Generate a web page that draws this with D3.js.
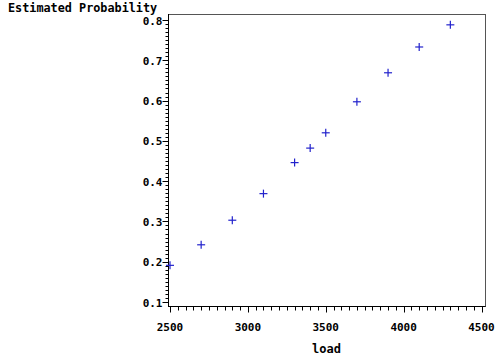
<!DOCTYPE html>
<html><head><meta charset="utf-8">
<script src="https://cdn.jsdelivr.net/npm/d3@7"></script>
<style>body{margin:0;background:#fff}</style>
</head><body>
<svg id="c" width="495" height="360"></svg>
<script>
const load = [2500, 2700, 2900, 3100, 3300, 3400, 3500, 3700, 3900, 4100, 4300];
const prob = [0.191, 0.242, 0.303, 0.369, 0.446, 0.482, 0.520, 0.597, 0.669, 0.733, 0.788];
const xTicks = [2500, 3000, 3500, 4000, 4500];
const yTicks = [0.1, 0.2, 0.3, 0.4, 0.5, 0.6, 0.7, 0.8];

const svg = d3.select("#c");
const L = 168, R = 485, T = 14, B = 306;
const x = d3.scaleLinear().domain([2500, 4500]).range([170, 481.5]);
const y = d3.scaleLinear().domain([0.1, 0.8]).range([302, 20]);
const font = "'DejaVu Sans Mono', monospace";

// frame
svg.append("rect").attr("x", L + 0.5).attr("y", T + 0.5).attr("width", R - L).attr("height", B - T)
  .attr("fill", "none").attr("stroke", "#555").attr("stroke-width", 1);

// x axis
const xMinor = d3.range(2500, 4501, 50);
const xa = svg.append("g").attr("transform", `translate(0,${B + 0.5})`);
xa.append("line").attr("x1", L).attr("x2", R + 0.5).attr("stroke", "#000");
xa.selectAll("line.mn").data(xMinor).join("line").attr("class", "mn")
  .attr("x1", d => Math.round(x(d)) + 0.5).attr("x2", d => Math.round(x(d)) + 0.5)
  .attr("y1", 0).attr("y2", d => xTicks.includes(d) ? 6 : 4).attr("stroke", "#000");
xa.selectAll("text").data(xTicks).join("text")
  .attr("x", d => x(d)).attr("y", 24).attr("text-anchor", "middle")
  .attr("font-family", font).attr("font-weight", "bold").attr("font-size", 11).text(d => d);

// y axis
const yMinor = d3.range(10, 81, 1).map(d => d / 100);
const ya = svg.append("g").attr("transform", `translate(${L + 0.5},0)`);
ya.append("line").attr("y1", T).attr("y2", B + 0.5).attr("stroke", "#000");
ya.selectAll("line.mn").data(yMinor).join("line").attr("class", "mn")
  .attr("y1", d => Math.round(y(d)) + 0.5).attr("y2", d => Math.round(y(d)) + 0.5)
  .attr("x1", 0).attr("x2", d => (Math.round(d * 100) % 10 === 0) ? -6 : -3).attr("stroke", "#000");
ya.selectAll("text").data(yTicks).join("text")
  .attr("x", -6).attr("y", d => y(d) + 4.5).attr("text-anchor", "end")
  .attr("font-family", font).attr("font-weight", "bold").attr("font-size", 11).text(d => d.toFixed(1));

// labels
svg.append("text").attr("x", 8).attr("y", 11.5).attr("font-family", font).attr("font-weight", "bold")
  .attr("font-size", 11.8).text("Estimated Probability");
svg.append("text").attr("x", (L + R) / 2).attr("y", 353).attr("text-anchor", "middle")
  .attr("font-family", font).attr("font-weight", "bold").attr("font-size", 12).text("load");

// points
const pts = svg.append("g").attr("stroke", "#2222cc").attr("stroke-width", 1.2);
load.forEach((d, i) => {
  const px = x(d), py = y(prob[i]);
  pts.append("line").attr("x1", px - 4).attr("x2", px + 4).attr("y1", py).attr("y2", py);
  pts.append("line").attr("x1", px).attr("x2", px).attr("y1", py - 4).attr("y2", py + 4);
});
</script>
</body></html>
